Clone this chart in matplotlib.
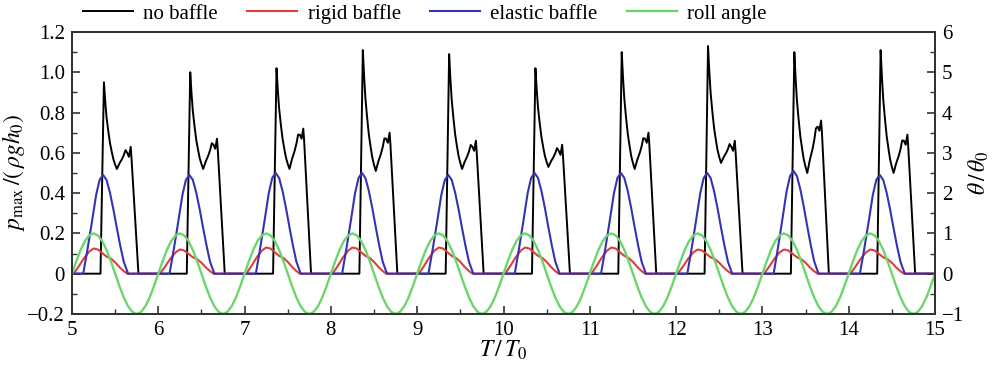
import numpy as np
import matplotlib.pyplot as plt
from matplotlib.ticker import MultipleLocator, FixedLocator, FixedFormatter

plt.rcParams['font.family'] = ['Liberation Serif', 'DejaVu Serif']
plt.rcParams['mathtext.fontset'] = 'stix'

#%% data (one entry per roll period, T/T0 = 5 ... 14)
cycle_start = [5, 6, 7, 8, 9, 10, 11, 12, 13, 14]
nobaffle_peak = [0.95, 1.00, 1.02, 1.11, 1.09, 1.02, 1.10, 1.13, 1.10, 1.11]
nobaffle_min = [0.52, 0.52, 0.52, 0.51, 0.52, 0.53, 0.52, 0.55, 0.50, 0.50]
nobaffle_hump = [0.63, 0.67, 0.72, 0.70, 0.66, 0.64, 0.70, 0.66, 0.76, 0.69]
elastic_peak = [0.49, 0.49, 0.50, 0.50, 0.49, 0.50, 0.50, 0.50, 0.51, 0.49]
rigid_peak = [0.125, 0.12, 0.13, 0.13, 0.13, 0.13, 0.13, 0.12, 0.12, 0.12]

# shape inside one period (phase, fraction)
nb_phase = [0.0, 0.33, 0.37, 0.385, 0.40, 0.42, 0.44, 0.46, 0.48, 0.50, 0.52,
            0.55, 0.58, 0.60, 0.62, 0.64, 0.66, 0.68, 0.69, 0.77, 1.0]
el_phase = [0.0, 0.13, 0.18, 0.23, 0.28, 0.32, 0.36, 0.40, 0.44, 0.48, 0.52, 0.56, 0.60, 0.65, 1.0]
el_frac = [0.0, 0.0, 0.25, 0.52, 0.80, 0.95, 1.0, 0.95, 0.82, 0.65, 0.46, 0.28, 0.12, 0.0, 0.0]
rg_phase = [0.0, 0.02, 0.08, 0.14, 0.20, 0.25, 0.30, 0.35, 0.40, 0.45, 0.50, 0.55, 0.60, 0.64, 1.0]
rg_frac = [0.0, 0.0, 0.30, 0.62, 0.88, 1.0, 0.96, 0.82, 0.68, 0.60, 0.45, 0.26, 0.10, 0.0, 0.0]
roll_phase = [0.0, 0.05, 0.10, 0.15, 0.20, 0.25, 0.30, 0.35, 0.40, 0.45, 0.50,
              0.55, 0.60, 0.65, 0.70, 0.75, 0.80, 0.85, 0.90, 0.95]
roll_val = [0.0, 0.31, 0.59, 0.81, 0.95, 1.0, 0.95, 0.81, 0.59, 0.31, 0.0,
            -0.31, -0.59, -0.81, -0.95, -1.0, -0.95, -0.81, -0.59, -0.31]

#%% build the curves
t_nb, v_nb, t_el, v_el, t_rg, v_rg, t_roll, v_roll = [], [], [], [], [], [], [], []
for i, c in enumerate(cycle_start):
    p, m, h = nobaffle_peak[i], nobaffle_min[i], nobaffle_hump[i]
    vals = [0, 0, p,
            p - 0.22 * (p - m), p - 0.40 * (p - m), p - 0.56 * (p - m), p - 0.70 * (p - m),
            p - 0.80 * (p - m), p - 0.89 * (p - m), p - 0.95 * (p - m), m,
            m + 0.25 * (h - m), m + 0.45 * (h - m), m + 0.62 * (h - m), m + 0.85 * (h - m),
            h - 0.03, h - 0.05, h, h - 0.06, 0, 0]
    t_nb += [c + ph for ph in nb_phase]
    v_nb += vals
    t_el += [c + ph for ph in el_phase]
    v_el += [elastic_peak[i] * f for f in el_frac]
    t_rg += [c + ph for ph in rg_phase]
    v_rg += [rigid_peak[i] * f for f in rg_frac]
    t_roll += [c + ph for ph in roll_phase]
    v_roll += roll_val
t_roll.append(15)
v_roll.append(0.0)

#%% plot
fig = plt.figure(figsize=(10, 3.76), dpi=100)
ax = fig.add_axes([0.072, 0.165, 0.863, 0.75])
ax2 = ax.twinx()

l1, = ax.plot(t_nb, v_nb, color='black', lw=1.4, label='no baffle')
l2, = ax.plot(t_rg, v_rg, color='#d8403c', lw=1.5, label='rigid baffle')
l3, = ax.plot(t_el, v_el, color='#3434b0', lw=1.5, label='elastic baffle')
l4, = ax2.plot(t_roll, v_roll, color='#6cd66c', lw=1.7, label='roll angle')

ax.set_xlim(5, 15)
ax.set_ylim(-0.2, 1.2)
ax2.set_ylim(-1, 6)

ax.xaxis.set_major_locator(MultipleLocator(1))
ax.xaxis.set_minor_locator(MultipleLocator(0.5))
ax.yaxis.set_major_locator(FixedLocator([-0.2, 0, 0.2, 0.4, 0.6, 0.8, 1.0, 1.2]))
ax.yaxis.set_major_formatter(FixedFormatter(['\u22120.2', '0', '0.2', '0.4', '0.6', '0.8', '1.0', '1.2']))
ax.yaxis.set_minor_locator(MultipleLocator(0.1))
ax2.yaxis.set_major_locator(FixedLocator([-1, 0, 1, 2, 3, 4, 5, 6]))
ax2.yaxis.set_major_formatter(FixedFormatter(['\u22121', '0', '1', '2', '3', '4', '5', '6']))
ax2.yaxis.set_minor_locator(MultipleLocator(0.5))

for a in (ax, ax2):
    a.tick_params(which='both', direction='in', labelsize=15, color='#333333', pad=5)
    a.tick_params(which='major', length=6, width=1.2)
    a.tick_params(which='minor', length=3.5, width=1.0)
    for s in a.spines.values():
        s.set_linewidth(1.4)
        s.set_color('#333333')
ax.tick_params(which='both', top=False, right=False)

ax.set_xlabel(r'$T\,/\,T_{0}$', fontsize=17, labelpad=-1)
ax.set_ylabel(r'$p_{\rm max}\,/(\,\rho g h_{0})$', fontsize=17, labelpad=0)
ax2.set_ylabel(r'$\theta\,/\,\theta_{0}$', fontsize=17, labelpad=2)

fig.legend(handles=[l1, l2, l3, l4], loc='upper left', bbox_to_anchor=(0.083, 0.99),
           ncol=4, frameon=False, fontsize=15, handlelength=2.4, handletextpad=0.5,
           columnspacing=1.4, borderpad=0, borderaxespad=0)

fig.savefig('out.png', dpi=100)
